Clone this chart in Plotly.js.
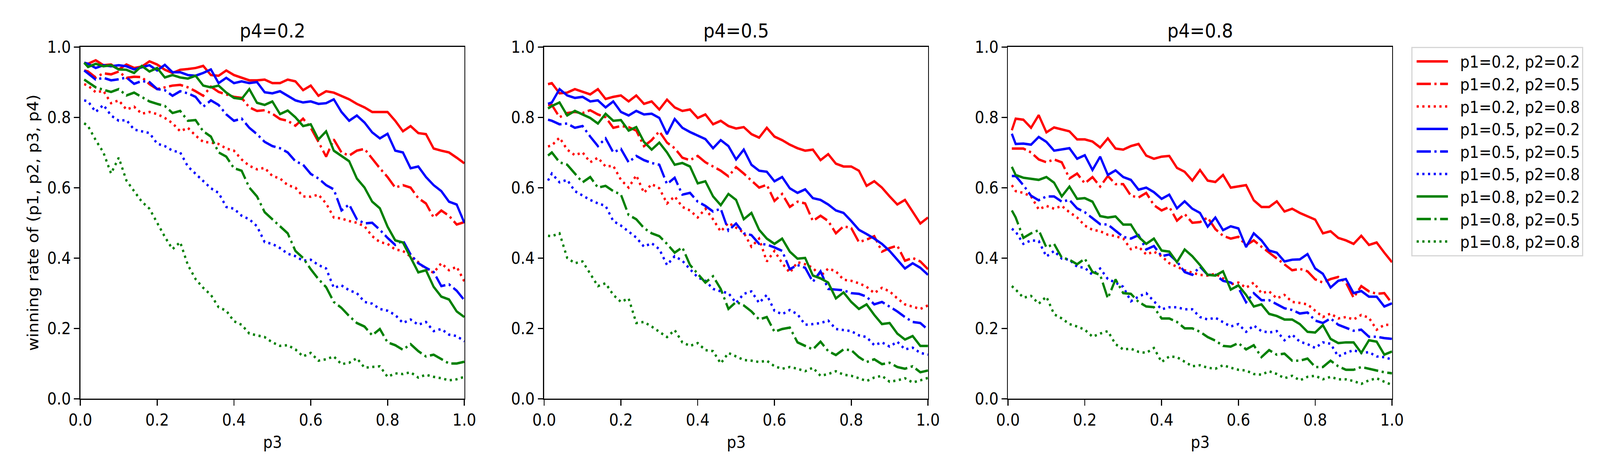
<!DOCTYPE html>
<html>
<head>
<meta charset="utf-8">
<script src="https://cdn.plot.ly/plotly-3.0.1.min.js"></script>
<style>
  html, body { margin: 0; padding: 0; background: #ffffff; overflow: hidden; }
  #chart { width: 4500px; height: 1200px; transform-origin: 0 0; }
</style>
</head>
<body>
<div id="chart"></div>
<script>
// p3 values shared by every curve
var p3 = [0.01, 0.02, 0.04, 0.06, 0.08, 0.10, 0.12, 0.14, 0.16, 0.18, 0.20,
          0.22, 0.24, 0.26, 0.28, 0.30, 0.32, 0.34, 0.36, 0.38, 0.40,
          0.42, 0.44, 0.46, 0.48, 0.50, 0.52, 0.54, 0.56, 0.58, 0.60,
          0.62, 0.64, 0.66, 0.68, 0.70, 0.72, 0.74, 0.76, 0.78, 0.80,
          0.82, 0.84, 0.86, 0.88, 0.90, 0.92, 0.94, 0.96, 0.98, 1.00];

var panelTitles = ['p4=0.2', 'p4=0.5', 'p4=0.8'];
var seriesLabels = ['p1=0.2, p2=0.2', 'p1=0.2, p2=0.5', 'p1=0.2, p2=0.8',
                    'p1=0.5, p2=0.2', 'p1=0.5, p2=0.5', 'p1=0.5, p2=0.8',
                    'p1=0.8, p2=0.2', 'p1=0.8, p2=0.5', 'p1=0.8, p2=0.8'];

// winning rate, p4 = 0.2
var rate_p4_02_p1_02_p2_02 = [.955,.952,.962,.948,.950,.936,.950,.940,.944,.959,.950,.935,.926,.935,.937,.940,.946,.920,.918,.933,.920,.912,.905,.905,.907,.897,.897,.907,.902,.877,.890,.861,.874,.870,.861,.851,.838,.828,.815,.815,.815,.790,.760,.775,.755,.752,.711,.705,.700,.685,.669];
var rate_p4_02_p1_02_p2_05 = [.933,.930,.913,.925,.922,.930,.912,.915,.914,.894,.880,.885,.890,.892,.885,.874,.861,.887,.872,.865,.858,.855,.828,.818,.820,.810,.795,.790,.776,.796,.770,.730,.688,.737,.700,.691,.705,.710,.682,.655,.630,.600,.607,.600,.570,.555,.515,.535,.520,.495,.502];
var rate_p4_02_p1_02_p2_08 = [.894,.890,.871,.875,.840,.848,.822,.830,.810,.815,.809,.798,.783,.760,.770,.748,.730,.728,.724,.711,.705,.680,.662,.652,.656,.633,.626,.607,.600,.575,.574,.580,.555,.515,.512,.505,.500,.490,.462,.445,.440,.424,.420,.405,.388,.368,.358,.385,.365,.375,.333];
var rate_p4_02_p1_05_p2_02 = [.955,.952,.940,.948,.945,.948,.945,.936,.942,.948,.933,.949,.928,.928,.920,.918,.926,.936,.897,.912,.897,.902,.897,.900,.871,.868,.874,.860,.848,.842,.845,.838,.840,.851,.815,.790,.805,.785,.757,.740,.753,.705,.700,.655,.660,.630,.607,.590,.560,.552,.500];
var rate_p4_02_p1_05_p2_05 = [.933,.925,.907,.912,.905,.908,.913,.895,.903,.900,.880,.877,.861,.874,.868,.858,.830,.848,.835,.808,.790,.796,.770,.752,.730,.718,.712,.700,.675,.665,.639,.626,.607,.595,.535,.552,.510,.498,.500,.480,.457,.437,.450,.410,.385,.372,.360,.320,.325,.307,.280];
var rate_p4_02_p1_05_p2_08 = [.848,.845,.815,.835,.805,.790,.792,.765,.760,.755,.725,.718,.705,.700,.660,.640,.620,.598,.585,.545,.540,.520,.510,.490,.445,.440,.428,.412,.405,.392,.395,.380,.370,.315,.322,.308,.300,.275,.270,.255,.250,.238,.215,.225,.210,.218,.192,.198,.182,.178,.163];
var rate_p4_02_p1_08_p2_02 = [.955,.943,.952,.945,.948,.936,.935,.926,.946,.930,.940,.913,.920,.913,.910,.918,.890,.885,.890,.870,.855,.852,.880,.841,.835,.845,.809,.819,.800,.775,.780,.737,.760,.705,.690,.675,.626,.600,.560,.541,.489,.450,.444,.400,.359,.365,.318,.290,.282,.248,.232];
var rate_p4_02_p1_08_p2_05 = [.907,.900,.885,.878,.872,.880,.862,.870,.858,.845,.838,.832,.812,.818,.790,.792,.760,.745,.700,.688,.655,.648,.600,.575,.530,.510,.490,.470,.420,.400,.368,.340,.317,.275,.258,.235,.215,.205,.180,.198,.160,.152,.139,.155,.135,.120,.125,.113,.100,.100,.105];
var rate_p4_02_p1_08_p2_08 = [.783,.775,.735,.700,.640,.685,.620,.590,.560,.540,.500,.460,.425,.445,.380,.340,.315,.295,.260,.250,.220,.210,.185,.180,.175,.160,.150,.152,.140,.120,.130,.108,.112,.120,.098,.102,.115,.088,.090,.092,.062,.072,.070,.075,.060,.068,.062,.058,.052,.055,.062];

// winning rate, p4 = 0.5
var rate_p4_05_p1_02_p2_02 = [.894,.897,.868,.870,.880,.872,.865,.880,.852,.858,.862,.845,.862,.838,.845,.822,.850,.828,.818,.822,.798,.808,.780,.790,.775,.768,.772,.752,.742,.770,.745,.735,.722,.712,.705,.708,.678,.695,.668,.660,.660,.648,.605,.618,.600,.575,.552,.565,.530,.498,.515];
var rate_p4_05_p1_02_p2_05 = [.835,.835,.800,.812,.815,.812,.820,.808,.800,.770,.775,.772,.762,.718,.735,.760,.728,.712,.685,.678,.690,.672,.660,.648,.632,.658,.640,.620,.600,.608,.562,.582,.545,.560,.555,.505,.520,.505,.470,.490,.485,.445,.452,.462,.418,.428,.435,.392,.400,.390,.368];
var rate_p4_05_p1_02_p2_08 = [.717,.720,.742,.708,.692,.700,.672,.685,.660,.662,.622,.600,.635,.585,.610,.598,.555,.575,.545,.535,.515,.540,.510,.475,.500,.485,.472,.432,.455,.390,.420,.385,.358,.388,.382,.372,.348,.370,.362,.338,.335,.328,.318,.300,.315,.305,.285,.268,.262,.255,.265];
var rate_p4_05_p1_05_p2_02 = [.838,.842,.880,.862,.855,.858,.845,.848,.828,.845,.815,.805,.818,.808,.810,.798,.752,.795,.770,.758,.748,.738,.712,.735,.718,.680,.708,.665,.648,.645,.618,.630,.598,.585,.595,.570,.565,.552,.535,.528,.505,.480,.468,.455,.440,.420,.395,.370,.385,.372,.352];
var rate_p4_05_p1_05_p2_05 = [.793,.790,.780,.782,.770,.775,.745,.718,.740,.700,.710,.672,.690,.678,.670,.665,.610,.628,.580,.585,.560,.548,.532,.540,.478,.498,.470,.465,.440,.438,.430,.420,.368,.380,.372,.332,.362,.312,.310,.308,.300,.298,.290,.268,.275,.262,.248,.232,.218,.215,.196];
var rate_p4_05_p1_05_p2_08 = [.620,.640,.615,.622,.590,.578,.565,.555,.548,.505,.492,.475,.458,.432,.442,.425,.380,.405,.392,.368,.345,.335,.312,.305,.300,.272,.298,.305,.272,.295,.250,.240,.252,.240,.210,.212,.215,.222,.198,.195,.192,.180,.175,.152,.160,.148,.162,.140,.145,.130,.125];
var rate_p4_05_p1_08_p2_02 = [.825,.832,.842,.805,.818,.808,.798,.782,.810,.790,.792,.762,.772,.730,.708,.728,.700,.665,.670,.660,.612,.618,.575,.550,.582,.565,.510,.528,.480,.455,.440,.455,.418,.398,.400,.350,.342,.330,.285,.302,.275,.255,.268,.238,.212,.215,.185,.168,.178,.150,.150];
var rate_p4_05_p1_08_p2_05 = [.691,.700,.672,.665,.640,.615,.630,.600,.605,.590,.580,.522,.510,.485,.470,.462,.440,.415,.430,.380,.355,.330,.348,.312,.255,.275,.265,.248,.225,.232,.190,.198,.202,.160,.150,.140,.162,.135,.124,.140,.138,.118,.104,.112,.098,.102,.090,.085,.092,.075,.080];
var rate_p4_05_p1_08_p2_08 = [.463,.462,.470,.400,.385,.390,.355,.320,.328,.295,.275,.285,.215,.218,.205,.190,.175,.195,.160,.150,.158,.138,.135,.100,.130,.120,.110,.108,.104,.108,.092,.085,.090,.085,.078,.088,.065,.070,.078,.068,.065,.058,.050,.060,.065,.048,.052,.058,.046,.052,.059];

// winning rate, p4 = 0.8
var rate_p4_08_p1_02_p2_02 = [.763,.796,.793,.770,.806,.757,.771,.765,.760,.737,.737,.731,.714,.740,.711,.708,.718,.724,.691,.682,.688,.690,.656,.645,.620,.650,.620,.616,.636,.600,.603,.607,.564,.545,.545,.561,.532,.540,.528,.519,.509,.470,.476,.457,.450,.440,.463,.437,.444,.415,.388];
var rate_p4_08_p1_02_p2_05 = [.711,.711,.711,.700,.680,.672,.680,.672,.626,.640,.612,.630,.603,.633,.610,.610,.577,.572,.585,.550,.535,.545,.506,.525,.500,.502,.515,.482,.463,.455,.460,.436,.450,.432,.415,.400,.382,.365,.369,.362,.339,.330,.340,.346,.330,.287,.320,.305,.298,.300,.271];
var rate_p4_08_p1_02_p2_08 = [.607,.590,.585,.575,.538,.548,.540,.548,.530,.515,.492,.480,.476,.466,.462,.455,.425,.432,.410,.418,.405,.385,.375,.365,.358,.352,.350,.355,.342,.325,.330,.315,.330,.300,.305,.285,.295,.275,.272,.268,.250,.232,.242,.228,.232,.225,.238,.230,.196,.210,.210];
var rate_p4_08_p1_05_p2_02 = [.753,.724,.725,.722,.744,.730,.705,.708,.712,.682,.692,.650,.688,.636,.649,.630,.622,.594,.600,.587,.568,.580,.541,.561,.540,.528,.489,.515,.479,.490,.484,.431,.470,.450,.421,.415,.390,.395,.396,.411,.370,.355,.316,.335,.340,.300,.306,.290,.290,.262,.271];
var rate_p4_08_p1_05_p2_05 = [.633,.633,.607,.577,.564,.575,.575,.560,.565,.541,.530,.512,.496,.495,.478,.460,.455,.465,.424,.434,.405,.410,.390,.360,.352,.375,.352,.352,.335,.330,.315,.274,.300,.280,.280,.268,.257,.252,.242,.245,.222,.215,.228,.210,.202,.193,.196,.176,.176,.172,.170];
var rate_p4_08_p1_05_p2_08 = [.483,.475,.440,.450,.448,.404,.420,.398,.395,.375,.372,.352,.370,.340,.330,.318,.277,.290,.300,.278,.254,.260,.260,.254,.254,.232,.225,.230,.218,.205,.212,.190,.208,.192,.188,.192,.166,.182,.162,.155,.144,.160,.156,.120,.130,.138,.130,.132,.120,.118,.111];
var rate_p4_08_p1_08_p2_02 = [.659,.636,.628,.625,.622,.630,.614,.575,.603,.568,.570,.560,.519,.515,.518,.495,.495,.460,.440,.455,.421,.418,.388,.424,.405,.380,.352,.350,.362,.310,.322,.295,.262,.268,.241,.235,.225,.225,.212,.190,.188,.209,.170,.158,.160,.160,.130,.166,.162,.125,.134];
var rate_p4_08_p1_08_p2_05 = [.535,.515,.457,.470,.479,.430,.440,.401,.395,.382,.398,.360,.352,.285,.339,.300,.298,.275,.262,.260,.228,.228,.218,.200,.200,.190,.175,.165,.150,.148,.158,.140,.152,.118,.138,.125,.128,.108,.108,.114,.090,.090,.108,.092,.082,.082,.090,.085,.080,.075,.072];
var rate_p4_08_p1_08_p2_08 = [.320,.310,.287,.292,.270,.290,.240,.228,.212,.205,.196,.176,.185,.192,.155,.140,.142,.133,.130,.144,.104,.120,.118,.104,.092,.095,.088,.085,.095,.088,.082,.080,.070,.068,.078,.070,.058,.065,.052,.062,.065,.055,.062,.055,.055,.050,.042,.052,.058,.048,.039];

var panelRates = [
  [rate_p4_02_p1_02_p2_02, rate_p4_02_p1_02_p2_05, rate_p4_02_p1_02_p2_08,
   rate_p4_02_p1_05_p2_02, rate_p4_02_p1_05_p2_05, rate_p4_02_p1_05_p2_08,
   rate_p4_02_p1_08_p2_02, rate_p4_02_p1_08_p2_05, rate_p4_02_p1_08_p2_08],
  [rate_p4_05_p1_02_p2_02, rate_p4_05_p1_02_p2_05, rate_p4_05_p1_02_p2_08,
   rate_p4_05_p1_05_p2_02, rate_p4_05_p1_05_p2_05, rate_p4_05_p1_05_p2_08,
   rate_p4_05_p1_08_p2_02, rate_p4_05_p1_08_p2_05, rate_p4_05_p1_08_p2_08],
  [rate_p4_08_p1_02_p2_02, rate_p4_08_p1_02_p2_05, rate_p4_08_p1_02_p2_08,
   rate_p4_08_p1_05_p2_02, rate_p4_08_p1_05_p2_05, rate_p4_08_p1_05_p2_08,
   rate_p4_08_p1_08_p2_02, rate_p4_08_p1_08_p2_05, rate_p4_08_p1_08_p2_08]
];

// colour follows p1, dash follows p2 (matplotlib '-', '-.', ':' at lw 1.5 / 300 dpi)
var p1Colors = ['#ff0000', '#0000ff', '#008000'];
var p2Dashes = ['solid', '40px,10px,6px,10px', '6px,10px'];

var FONT = 'DejaVu Sans';
var LW = 6.25;
var W = 4500, H = 1200;
var domains = [[226 / W, 1306 / W], [1530.5 / W, 2610 / W], [2835 / W, 3915 / W]];

// the page may be narrower than the 4500px figure: squeeze it to fit the window width
var chartDiv = document.getElementById('chart');
var sx = Math.min(1, (window.innerWidth || W) / W);
if (sx < 1) chartDiv.style.transform = 'scale(' + sx + ',1)';

var traces = [];
panelRates.forEach(function (rates, k) {
  rates.forEach(function (y, i) {
    traces.push({
      x: p3, y: y, type: 'scatter', mode: 'lines',
      name: seriesLabels[i], legendgroup: seriesLabels[i], showlegend: k === 0,
      xaxis: k ? 'x' + (k + 1) : 'x', yaxis: k ? 'y' + (k + 1) : 'y',
      line: { color: p1Colors[Math.floor(i / 3)], width: LW, dash: p2Dashes[i % 3] }
    });
  });
});

function axisStyle(extra) {
  var a = {
    range: [0, 1], autorange: false, tick0: 0, dtick: 0.2, tickformat: '.1f',
    ticks: 'outside', ticklen: 15, tickwidth: 3.3, tickcolor: '#000',
    showline: true, linecolor: '#000', linewidth: 3.3, mirror: true,
    showgrid: false, zeroline: false, fixedrange: true,
    tickfont: { family: FONT, size: 42, color: '#000' }
  };
  for (var key in extra) a[key] = extra[key];
  return a;
}

var layout = {
  width: W, height: H,
  margin: { l: 0, r: 0, t: 0, b: 0 },
  paper_bgcolor: '#ffffff', plot_bgcolor: '#ffffff',
  font: { family: FONT, size: 42, color: '#000' },
  showlegend: true,
  legend: {
    x: 3969 / W, y: 0.9, xanchor: 'left', yanchor: 'top',
    bgcolor: 'rgba(255,255,255,0.8)', bordercolor: '#d6d6d6', borderwidth: 3.3,
    font: { family: FONT, size: 42, color: '#000' },
    itemwidth: 124, tracegroupgap: 5, traceorder: 'normal'
  },
  annotations: []
};

for (var k = 0; k < 3; k++) {
  var s = k ? String(k + 1) : '';
  layout['xaxis' + s] = axisStyle({ domain: domains[k], anchor: 'y' + s });
  layout['yaxis' + s] = axisStyle({ domain: [0.15, 0.9], anchor: 'x' + s });
  layout.annotations.push({
    text: panelTitles[k], xref: 'x' + s + ' domain', yref: 'paper',
    x: 0.5, y: 1 - 79 / H, xanchor: 'center', yanchor: 'middle',
    showarrow: false, font: { family: FONT, size: 50, color: '#000' }
  });
  layout.annotations.push({
    text: 'p3', xref: 'x' + s + ' domain', yref: 'paper',
    x: 0.5, y: 1 - 1131 / H, xanchor: 'center', yanchor: 'middle',
    showarrow: false, font: { family: FONT, size: 42, color: '#000' }
  });
}
layout.annotations.push({
  text: 'winning rate of (p1, p2, p3, p4)', xref: 'paper', yref: 'paper',
  x: 93 / W, y: 1 - 570 / H, xanchor: 'center', yanchor: 'middle', textangle: -90,
  showarrow: false, font: { family: FONT, size: 42, color: '#000' }
});

Plotly.newPlot(chartDiv, traces, layout, { displayModeBar: false, responsive: false }).then(function (gd) {
  // stretch the legend keys to matplotlib's handle length
  gd.querySelectorAll('.legend .legendlines path').forEach(function (p) {
    p.setAttribute('d', 'M12,0h88');
  });
});
</script>
</body>
</html>
